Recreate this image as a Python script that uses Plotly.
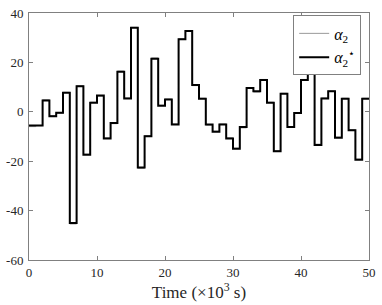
import plotly.graph_objects as go

# step start times (×10^3 s)
time = list(range(0, 51))
# reference signal alpha_2* (value held on [k, k+1))
alpha2_star = [-5.5, -5.5, 4.6, -1.8, -0.4, 7.7, -45.0, 10.3, -17.4, 3.7,
               6.6, -10.8, -4.5, 16.2, 5.4, 34.0, -22.6, -9.9, 21.5, 2.4,
               5.0, -5.1, 29.4, 32.7, 10.9, 5.3, -5.1, -8.1, -5.1, -10.8,
               -15.0, -6.2, 9.6, 8.3, 12.9, 3.7, -16.0, 7.3, -6.2, -0.5,
               12.9, 22.0, -13.4, 5.4, 8.3, -10.5, 5.3, -7.5, -19.4, 5.3]
# tracked signal alpha_2
alpha2 = [-6.0, -5.6, 4.9, -1.5, -0.6, 7.9, -45.4, 10.6, -17.1, 3.9,
          6.3, -10.5, -4.8, 16.5, 5.6, 34.2, -22.9, -9.6, 21.8, 2.7,
          5.2, -4.9, 29.6, 32.9, 10.6, 5.5, -5.4, -7.8, -4.9, -10.5,
          -14.7, -6.5, 9.8, 8.0, 13.1, 3.9, -15.7, 7.5, -6.0, -0.3,
          13.1, 22.2, -13.1, 5.6, 8.5, -10.2, 5.5, -7.2, -19.1, 5.5]

xticks = [0, 10, 20, 30, 40, 50]
xticklabels = ["0", "10", "20", "30", "40", "50"]
yticks = [-60, -40, -20, 0, 20, 40]
yticklabels = ["-60", "-40", "-20", "0", "20", "40"]

a2 = alpha2 + [alpha2[-1]]
a2s = alpha2_star + [alpha2_star[-1]]

fig = go.Figure()
fig.add_trace(go.Scatter(x=time, y=a2, mode="lines", line_shape="hv",
                         line=dict(color="#9a9a9a", width=1),
                         name="<i>α</i><sub>2</sub>"))
fig.add_trace(go.Scatter(x=time, y=a2s, mode="lines", line_shape="hv",
                         line=dict(color="black", width=2),
                         name="<i>α</i><sub>2</sub><sup>⋆</sup>"))

axis_common = dict(showgrid=False, zeroline=False, showline=True, mirror="ticks",
                   linecolor="#808080", linewidth=1, ticks="inside", ticklen=4,
                   tickcolor="#808080", ticklabeloverflow="allow",
                   tickfont=dict(family="Liberation Serif", size=13, color="#262626"))

fig.update_layout(
    width=382, height=305,
    margin=dict(l=28, r=10, t=6, b=45),
    plot_bgcolor="white", paper_bgcolor="white",
    font=dict(family="Liberation Serif", color="#262626"),
    xaxis=dict(range=[0, 50], tickvals=xticks, ticktext=xticklabels,
               title=dict(text="Time (×10<sup>3</sup> s)", font=dict(size=17, family="Liberation Serif"),
                          standoff=2),
               **axis_common),
    yaxis=dict(range=[-60, 40], tickvals=yticks, ticktext=yticklabels, ticklabelstandoff=2,
               **axis_common),
    legend=dict(x=0.977, y=0.99, xanchor="right", yanchor="top",
                bgcolor="white", bordercolor="#808080", borderwidth=1,
                font=dict(family="Liberation Serif", size=16, color="black"),
                tracegroupgap=0, itemwidth=30),
    showlegend=True,
)

fig.write_html("out.html", config={"displayModeBar": False},
               post_script="document.body.style.margin='0px';")
